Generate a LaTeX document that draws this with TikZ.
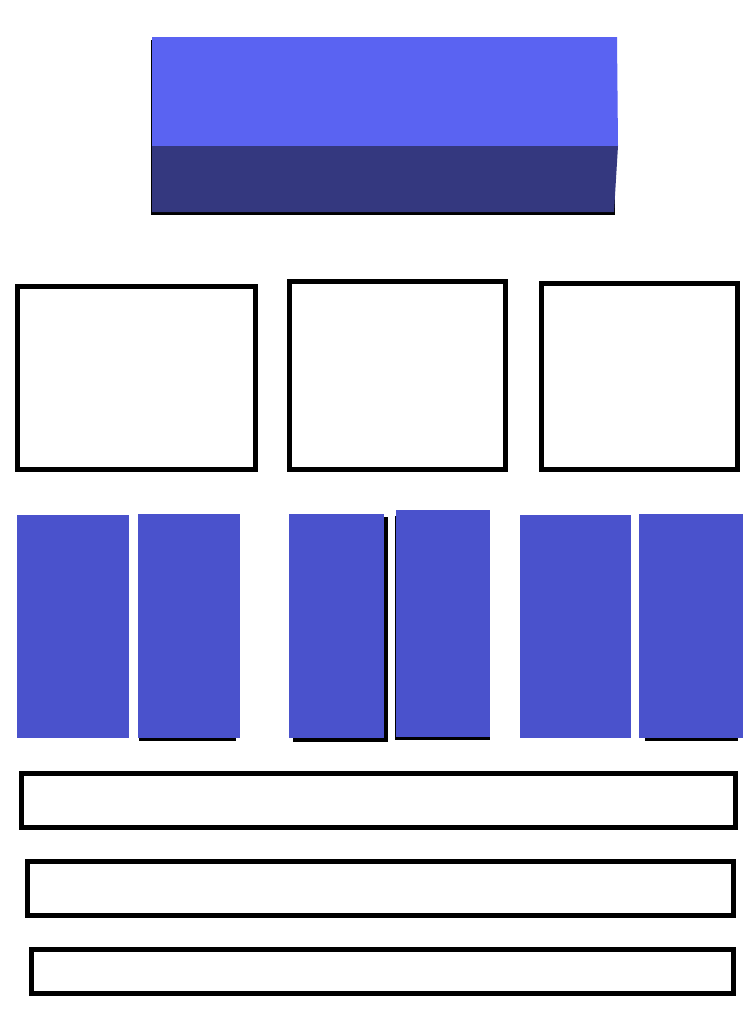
\documentclass[tikz,border=0pt]{standalone}
\usetikzlibrary{positioning}
\definecolor{blocktop}{RGB}{90,99,242}
\definecolor{blockfront}{RGB}{52,56,127}
\definecolor{barcolor}{RGB}{74,82,204}
\tikzset{
  cellbox/.style={draw=black, line width=5pt, inner sep=0pt, outer sep=0pt, anchor=north west},
  barfill/.style={fill=barcolor, inner sep=0pt, outer sep=0pt, anchor=north west},
  shadowfill/.style={fill=black},
}

\begin{document}
\begin{tikzpicture}[x=1pt, y=-1pt]
  \useasboundingbox (0,0) rectangle (748,1023);
  % block on top
  \fill[shadowfill] (151,40) rectangle (614.5,214.5);
  \fill[blocktop] (152,37) -- (617,37) -- (618,146) -- (152,146) -- cycle;
  \fill[blockfront] (152,146) -- (618,146) -- (614,212) -- (152,212) -- cycle;
  % three frames
  \foreach \nm/\x/\y/\w/\h in {cellL/17.5/286/238/183, cellM/289.5/281.5/216/188,
    cellR/541.5/283.5/196/186} {
    \node[cellbox, minimum width=\w, minimum height=\h] (\nm) at (\x,\y) {};
  }
  % shadows under the bars
  \fill[shadowfill] (139,737) rectangle (236,740.5);
  \fill[shadowfill] (293,517) rectangle (388,741.5);
  \fill[shadowfill] (394.5,516) rectangle (490,740);
  \fill[shadowfill] (645,737) rectangle (738,740.5);
  % bars
  \foreach \nm/\x/\y/\w/\h in {barA/17/515/112/223, barB/138/514/102/224,
    barC/289/514/95/224, barD/396/510/94/227, barE/520/515/111/223,
    barF/639/514/104/224} {
    \node[barfill, minimum width=\w, minimum height=\h] (\nm) at (\x,\y) {};
  }
  % three strips
  \foreach \nm/\x/\y/\w/\h in {stripA/21.5/773.3/714.3/54, stripB/27.5/861.5/705.7/53.7,
    stripC/31.5/949.2/701.7/43.8} {
    \node[cellbox, minimum width=\w, minimum height=\h] (\nm) at (\x,\y) {};
  }
\end{tikzpicture}
\end{document}
